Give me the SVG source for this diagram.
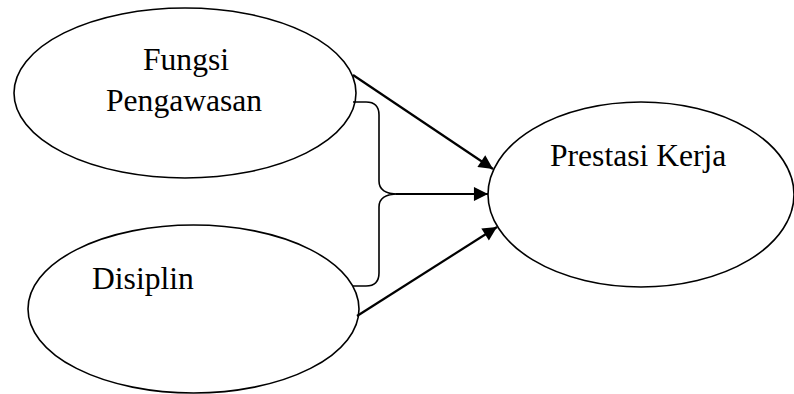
<svg xmlns="http://www.w3.org/2000/svg" width="794" height="394" viewBox="0 0 794 394">
<style>
.node{fill:#fff;stroke:#000;stroke-width:1.6}
.lbl{font-family:"Liberation Serif","Times New Roman",serif;font-size:31.6px;fill:#000}
.arr{fill:none;stroke:#000;stroke-width:2.2}
.brace{fill:none;stroke:#000;stroke-width:1.6}
</style>
<defs>
<marker id="ah" viewBox="0 0 10 10" refX="10" refY="5" markerWidth="7" markerHeight="6.4" markerUnits="strokeWidth" orient="auto">
<path d="M0,0 L10,5 L0,10 z" fill="#000"/>
</marker>
</defs>
<g id="node-fungsi">
<ellipse class="node" cx="185" cy="93" rx="171" ry="85"/>
<text class="lbl" x="143" y="70">Fungsi</text>
<text class="lbl" x="106" y="111">Pengawasan</text>
</g>
<g id="node-disiplin">
<ellipse class="node" cx="193.5" cy="309" rx="165.5" ry="84"/>
<text class="lbl" x="92" y="289">Disiplin</text>
</g>
<g id="node-prestasi">
<ellipse class="node" cx="641" cy="194.5" rx="153" ry="92.5"/>
<text class="lbl" x="550" y="166">Prestasi Kerja</text>
</g>
<g id="connectors">
<line class="arr" x1="353" y1="75" x2="493" y2="169" marker-end="url(#ah)"/>
<line class="arr" x1="357" y1="316" x2="497" y2="227" marker-end="url(#ah)"/>
<path class="brace" d="M353,102 L366,102 Q379,102 379,115 L379,181 Q379,194 398,194 Q379,194 379,207 L379,273 Q379,286 366,286 L353,286"/>
<line class="arr" x1="396" y1="194" x2="488" y2="194" marker-end="url(#ah)"/>
</g>
</svg>
